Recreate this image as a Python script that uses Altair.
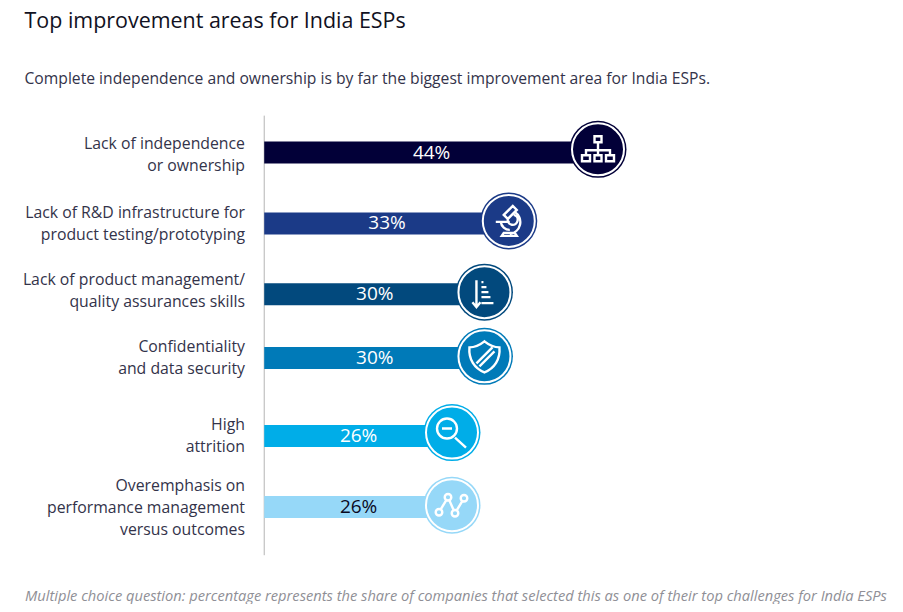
import altair as alt
import pandas as pd

FONT = "Open Sans"

categories = [
    "Lack of independence\nor ownership",
    "Lack of R&D infrastructure for\nproduct testing/prototyping",
    "Lack of product management/\nquality assurances skills",
    "Confidentiality\nand data security",
    "High\nattrition",
    "Overemphasis on\nperformance management\nversus outcomes",
]
shares = [44, 33, 30, 30, 26, 26]
share_labels = ["44%", "33%", "30%", "30%", "26%", "26%"]
bar_rows = [0.0, 1.0, 2.0, 2.9, 4.0, 5.0]
badge_rows = [-0.045, 0.965, 1.97, 2.875, 3.95, 4.975]
label_rows = [-0.125, 0.86, 1.80, 2.74, 3.845, 4.704]
colors = ["#020038", "#1b3a87", "#02497d", "#007ab8", "#00ade8", "#96d8f8"]
text_colors = ["#ffffff", "#ffffff", "#ffffff", "#ffffff", "#ffffff", "#0a0a1e"]

icons = [
    "M-3.5,-13h7v6h-7zM0,-7V6M-12,6V1H12V6M-16,6h8v6h-8zM-3.5,6h7v6h-7zM8,6h8v6h-8z",
    "M-5,-6L4,-15L8,-11L-1,-2ZM6,-9A12,12,0,0,1,1,13M-13,1H1M-8,1A9,9,0,0,0,1,9M-7,15H8L6,12H-5ZM-1,-2A5,5,0,1,0,5,-6",
    "M-8,-12V14M-12,10L-8,15L-4,10M-3,-10h2M-3,-5h5M-3,0h7M-3,5h9M-3,11h12",
    "M0,-15C5,-11,10,-9,15,-9C16,3,10,12,0,16C-10,12,-16,3,-15,-9C-10,-9,-5,-11,0,-15ZM-8,7L8,-9M-5,10L10,-5",
    "M5,-4A10,10,0,1,1,-15,-4A10,10,0,1,1,5,-4ZM-10,-4H0M3,5L14,15",
    "M-9.7,7A3.3,3.3,0,1,1,-16.3,7A3.3,3.3,0,1,1,-9.7,7ZM-0.7,-8A3.3,3.3,0,1,1,-7.3,-8A3.3,3.3,0,1,1,-0.7,-8ZM6.3,8A3.3,3.3,0,1,1,-0.3,8A3.3,3.3,0,1,1,6.3,8ZM15.3,-7A3.3,3.3,0,1,1,8.7,-7A3.3,3.3,0,1,1,15.3,-7ZM-11.3,4.2L-5.7,-5.2M-2.7,-5L1.7,5M4.7,5.2L10.3,-4.2",
]

title_text = "Top improvement areas for India ESPs"
subtitle_text = "Complete independence and ownership is by far the biggest improvement area for India ESPs."
footer_text = "Multiple choice question: percentage represents the share of companies that selected this as one of their top challenges for India ESPs"

BASE = 2.85
TOP = 10  # svg padding above the plot area
df = pd.DataFrame({
    "category": categories, "share": shares, "label": share_labels,
    "bar_row": bar_rows, "badge_row": badge_rows, "label_row": label_rows,
    "base": [BASE] * 6, "mid": [(s + BASE) / 2 for s in shares],
})

x_scale = alt.Scale(domain=[26, 44], range=[444, 590], zero=False, nice=False, padding=0)
y_scale = alt.Scale(domain=[0, 5], range=[144.5 - TOP, 499 - TOP], zero=False, nice=False, padding=0)
X = lambda f: alt.X(f, type="quantitative", scale=x_scale, axis=None)
Y = lambda f: alt.Y(f, type="quantitative", scale=y_scale, axis=None)
color = alt.Color("category:N", scale=alt.Scale(domain=categories, range=colors), legend=None)
base = alt.Chart(df)

axis_rule = alt.Chart(pd.DataFrame({"x": [BASE], "y1": [-0.52], "y2": [5.68]})).mark_rule(
    color="#b5b5b5", strokeWidth=1
).encode(x=X("x"), y=Y("y1"), y2="y2")

bars = base.mark_bar(size=22).encode(x=X("base"), x2="share:Q", y=Y("bar_row"), color=color)
outer = base.mark_point(filled=True, size=57 ** 2, shape="circle", opacity=1).encode(
    x=X("share"), y=Y("badge_row"), color=color)
ring = base.mark_point(filled=False, size=52 ** 2, shape="circle", opacity=1, strokeWidth=2, color="white").encode(
    x=X("share"), y=Y("badge_row"))
glyphs = base.mark_point(filled=False, size=4, opacity=1, strokeWidth=2.4, color="white").encode(
    x=X("share"), y=Y("badge_row"),
    shape=alt.Shape("category:N", scale=alt.Scale(domain=categories, range=icons), legend=None))

values = base.mark_text(font=FONT, fontSize=19, fontWeight=500, baseline="middle", align="center", dx=0.5).encode(
    x=X("mid"), y=Y("bar_row"), text="label:N",
    color=alt.Color("category:N", scale=alt.Scale(domain=categories, range=text_colors), legend=None))

cat_labels = base.mark_text(font=FONT, fontSize=15.8, align="right", baseline="middle",
                            lineBreak="\n", lineHeight=22, color="#33334a").encode(
    x=alt.value(237), y=Y("label_row"), text="category:N")

def page_text(txt, x, y, **kw):
    return alt.Chart(pd.DataFrame({"t": [txt]})).mark_text(font=FONT, align="left", baseline="middle", **kw).encode(
        x=alt.value(x), y=alt.value(y - TOP), text="t:N")

title = page_text(title_text, 16.5, 13.5, fontSize=21.45, color="#111122")
subtitle = page_text(subtitle_text, 16.5, 71, fontSize=15.68, color="#33334a")
footer = page_text(footer_text, 17, 589, fontSize=14.66, fontStyle="italic", color="#8f8f96")

chart = alt.layer(
    axis_rule, bars, outer, ring, glyphs, values, cat_labels, title, subtitle, footer
).resolve_scale(color="independent").properties(
    width=887, height=596 - TOP, autosize="none",
    padding={"left": 0, "top": TOP, "right": 0, "bottom": 0}, background="white"
).configure_view(stroke=None)

chart.save("out.html", embed_options={"renderer": "svg", "actions": False})
